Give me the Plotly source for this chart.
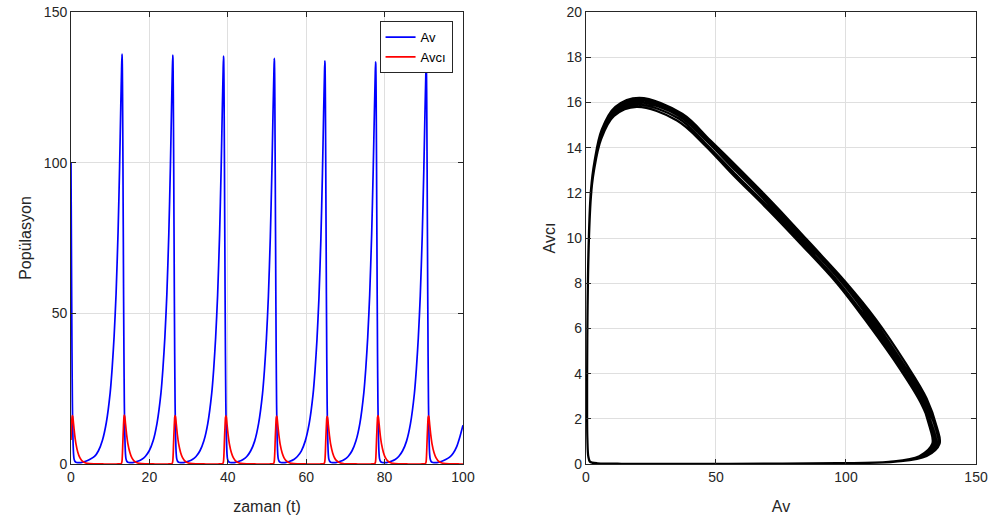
import plotly.graph_objects as go

# ---------------- data ----------------
# cycle 0 (start: Av=100, Avcı=8)
t_c0 = [0, 0.05, 0.1, 0.15, 0.2, 0.25, 0.35, 0.45, 0.55, 0.65, 0.75, 0.95, 1.25, 1.75, 2.25, 2.75, 3.75, 4.75]
av_c0 = [100, 86, 73, 60, 48, 37, 20.5, 11.2, 6.1, 3.3, 1.9, 1.0, 0.6, 0.45, 0.45, 0.55, 0.9, 1.5]
avci_c0 = [8.0, 9.8, 11.3, 12.9, 14.2, 15.4, 16.1, 15.7, 14.7, 13.3, 12.0, 9.6, 6.8, 3.85, 2.1, 1.15, 0.35, 0.11]

# cycle 1 (peak near t=13)
t_c1 = [6.0, 7.0, 8.0, 9.0, 10.0, 10.5, 11.0, 11.5, 12.0, 12.4, 12.7, 12.9, 13.0, 13.05, 13.1, 13.15, 13.2, 13.25,
        13.3, 13.35, 13.4, 13.45, 13.5, 13.6, 13.7, 13.8, 13.9, 14.0, 14.2, 14.5, 15.0, 15.5, 16.0, 17.0, 18.0]
av_c1 = [2.5, 4.4, 7.8, 13.7, 23.8, 31.9, 42.5, 56.6, 76.8, 98.8, 119, 131, 136, 135, 131, 123, 111.5, 99.5,
         85.5, 73.5, 59.5, 48, 37, 20.5, 11.3, 6.1, 3.3, 1.9, 1.0, 0.6, 0.45, 0.45, 0.55, 0.9, 1.5]
avci_c1 = [0.06, 0.035, 0.02, 0.013, 0.01, 0.01, 0.01, 0.012, 0.02, 0.04, 0.1, 0.35, 0.9, 1.6, 2.9, 4.45, 6.4, 8.1,
           9.85, 11.35, 13.0, 14.3, 15.5, 16.2, 15.8, 14.8, 13.4, 12.1, 9.6, 6.8, 3.9, 2.1, 1.15, 0.35, 0.11]

# cycle 2 (peak near t=26)
t_c2 = [18.95, 19.95, 20.95, 21.95, 22.95, 23.45, 23.95, 24.45, 24.95, 25.35, 25.65, 25.85, 25.95, 26.0, 26.05, 26.1,
        26.15, 26.2, 26.25, 26.3, 26.35, 26.4, 26.45, 26.55, 26.65, 26.75, 26.85, 26.95, 27.15, 27.45, 27.95, 28.45,
        28.95, 29.95, 30.95]
av_c2 = [2.5, 4.4, 7.7, 13.6, 23.6, 31.7, 42.2, 56.3, 76.4, 98.4, 118.5, 130.5, 135.7, 134.7, 130.5, 122.5,
         110.8, 98.8, 84.8, 72.8, 58.8, 47.5, 36.5, 20.3, 11.1, 6.0, 3.2, 1.9, 1.0, 0.6, 0.45, 0.45,
         0.55, 0.9, 1.5]
avci_c2 = [0.06, 0.035, 0.02, 0.013, 0.01, 0.01, 0.01, 0.012, 0.02, 0.04, 0.1, 0.35, 0.9, 1.6, 2.85, 4.35,
           6.35, 8.15, 9.85, 11.3, 12.95, 14.25, 15.45, 16.1, 15.7, 14.7, 13.3, 12.0, 9.55, 6.75, 3.85, 2.1,
           1.15, 0.35, 0.11]

# cycle 3 (peak near t=38.9)
t_c3 = [31.9, 32.9, 33.9, 34.9, 35.9, 36.4, 36.9, 37.4, 37.9, 38.3, 38.6, 38.8, 38.9, 38.95, 39.0, 39.05, 39.1,
        39.15, 39.2, 39.25, 39.3, 39.35, 39.4, 39.5, 39.6, 39.7, 39.8, 39.9, 40.1, 40.4, 40.9, 41.4, 41.9, 42.9, 43.9]
av_c3 = [2.5, 4.4, 7.7, 13.5, 23.5, 31.5, 42, 56, 76, 98, 118, 130, 135.4, 134.4, 130, 122, 110,
         98, 84, 72, 58, 47, 36, 20, 11, 6.0, 3.2, 1.9, 1.0, 0.6, 0.45, 0.45, 0.55, 0.9, 1.5]
avci_c3 = [0.06, 0.035, 0.02, 0.013, 0.01, 0.01, 0.01, 0.012, 0.02, 0.04, 0.1, 0.35, 0.9, 1.6, 2.8, 4.3, 6.3,
           8.1, 9.85, 11.3, 12.95, 14.25, 15.4, 16.0, 15.6, 14.6, 13.2, 11.9, 9.5, 6.7, 3.8, 2.1, 1.15, 0.35, 0.11]

# cycle 4 (peak near t=51.9)
t_c4 = [44.85, 45.85, 46.85, 47.85, 48.85, 49.35, 49.85, 50.35, 50.85, 51.25, 51.55, 51.75, 51.85, 51.9, 51.95, 52.0,
        52.05, 52.1, 52.15, 52.2, 52.25, 52.3, 52.35, 52.45, 52.55, 52.65, 52.75, 52.85, 53.05, 53.35, 53.85, 54.35,
        54.85, 55.85, 56.85]
av_c4 = [2.5, 4.4, 7.6, 13.4, 23.3, 31.2, 41.6, 55.5, 75.4, 97.4, 117.4, 129.4, 134.6, 133.6, 129.5, 121.5,
         109.2, 97.2, 83.2, 71.2, 57.2, 46.3, 35.5, 19.7, 10.9, 5.9, 3.1, 1.9, 1.0, 0.6, 0.45, 0.45,
         0.55, 0.9, 1.5]
avci_c4 = [0.06, 0.035, 0.02, 0.013, 0.01, 0.01, 0.01, 0.012, 0.02, 0.04, 0.1, 0.35, 0.9, 1.55, 2.75, 4.25,
           6.25, 8.05, 9.8, 11.25, 12.85, 14.15, 15.3, 15.9, 15.5, 14.5, 13.1, 11.8, 9.4, 6.6, 3.75, 2.05,
           1.12, 0.34, 0.11]

# cycle 5 (peak near t=64.8)
t_c5 = [57.75, 58.75, 59.75, 60.75, 61.75, 62.25, 62.75, 63.25, 63.75, 64.15, 64.45, 64.65, 64.75, 64.8, 64.85, 64.9,
        64.95, 65.0, 65.05, 65.1, 65.15, 65.2, 65.25, 65.35, 65.45, 65.55, 65.65, 65.75, 65.95, 66.25, 66.75, 67.25,
        67.75, 68.75, 69.75]
av_c5 = [2.5, 4.3, 7.6, 13.3, 23.1, 31.0, 41.3, 55.0, 74.8, 96.7, 116.8, 128.7, 133.8, 132.8, 128.8, 120.8,
         108.5, 96.5, 82.5, 70.5, 56.5, 45.8, 35.0, 19.5, 10.8, 5.9, 3.1, 1.8, 1.0, 0.6, 0.45, 0.45,
         0.55, 0.9, 1.5]
avci_c5 = [0.06, 0.035, 0.02, 0.013, 0.01, 0.01, 0.01, 0.012, 0.02, 0.04, 0.1, 0.35, 0.9, 1.55, 2.7, 4.2,
           6.2, 8.0, 9.75, 11.2, 12.8, 14.1, 15.2, 15.8, 15.4, 14.4, 13.0, 11.7, 9.3, 6.5, 3.7, 2.0,
           1.1, 0.33, 0.1]

# cycle 6 (peak near t=77.7)
t_c6 = [70.7, 71.7, 72.7, 73.7, 74.7, 75.2, 75.7, 76.2, 76.7, 77.1, 77.4, 77.6, 77.7, 77.75, 77.8, 77.85, 77.9,
        77.95, 78.0, 78.05, 78.1, 78.15, 78.2, 78.3, 78.4, 78.5, 78.6, 78.7, 78.9, 79.2, 79.7, 80.2, 80.7, 81.7, 82.7]
av_c6 = [2.5, 4.4, 7.7, 13.5, 23.6, 31.6, 42.1, 56.2, 76.2, 97.8, 117, 128.5, 133.5, 132.6, 129, 121.5, 110,
         98.5, 84.5, 72.5, 58.5, 47.5, 36.5, 20.3, 11.1, 6.0, 3.2, 1.9, 1.0, 0.6, 0.45, 0.45, 0.55, 0.9, 1.5]
avci_c6 = [0.06, 0.035, 0.02, 0.013, 0.01, 0.01, 0.01, 0.012, 0.02, 0.04, 0.1, 0.35, 0.9, 1.65, 2.9, 4.5, 6.45,
           8.2, 9.95, 11.45, 13.05, 14.35, 15.5, 16.1, 15.7, 14.7, 13.3, 12.0, 9.55, 6.75, 3.85, 2.1, 1.15, 0.35, 0.11]

# cycle 7 (peak near t=90.6)
t_c7 = [83.6, 84.6, 85.6, 86.6, 87.6, 88.1, 88.6, 89.1, 89.6, 90.0, 90.3, 90.5, 90.6, 90.65, 90.7, 90.75, 90.8,
        90.85, 90.9, 90.95, 91.0, 91.05, 91.1, 91.2, 91.3, 91.4, 91.5, 91.6, 91.8, 92.1, 92.6, 93.1, 93.6, 94.6, 95.6]
av_c7 = [2.5, 4.4, 7.6, 13.4, 23.4, 31.4, 41.8, 55.8, 75.6, 97.2, 116.5, 128.2, 133.2, 132.3, 128.5, 121, 109.5,
         97.8, 83.8, 71.8, 57.8, 46.8, 35.8, 19.9, 11.0, 6.0, 3.2, 1.9, 1.0, 0.6, 0.45, 0.45, 0.55, 0.9, 1.5]
avci_c7 = [0.06, 0.035, 0.02, 0.013, 0.01, 0.01, 0.01, 0.012, 0.02, 0.04, 0.1, 0.35, 0.9, 1.6, 2.85, 4.4, 6.35,
           8.15, 9.9, 11.35, 12.95, 14.25, 15.4, 16.0, 15.6, 14.6, 13.2, 11.9, 9.5, 6.7, 3.8, 2.1, 1.15, 0.35, 0.11]

# final rise toward the next peak
t_c8 = [96.6, 97.5, 98.4, 99.2, 100.0]
av_c8 = [2.3, 3.6, 5.8, 9.0, 12.9]
avci_c8 = [0.06, 0.035, 0.02, 0.015, 0.012]

t = t_c0 + t_c1 + t_c2 + t_c3 + t_c4 + t_c5 + t_c6 + t_c7 + t_c8
av = av_c0 + av_c1 + av_c2 + av_c3 + av_c4 + av_c5 + av_c6 + av_c7 + av_c8
avci = avci_c0 + avci_c1 + avci_c2 + avci_c3 + avci_c4 + avci_c5 + avci_c6 + avci_c7 + avci_c8

left_xticks = [0, 20, 40, 60, 80, 100]
left_yticks = [0, 50, 100, 150]
right_xticks = [0, 50, 100, 150]
right_yticks = [0, 2, 4, 6, 8, 10, 12, 14, 16, 18, 20]

# ---------------- figure ----------------
FONT = "Liberation Sans, Arial, Helvetica, sans-serif"
AX = "#262626"
GRID = "#dfdfdf"

fig = go.Figure()
fig.add_trace(go.Scatter(x=t, y=av, mode="lines", name="Av",
                         line=dict(color="#0000ff", width=1.7, shape="spline", smoothing=0.6),
                         xaxis="x", yaxis="y"))
fig.add_trace(go.Scatter(x=t, y=avci, mode="lines", name="Avcı",
                         line=dict(color="#ff0000", width=1.7, shape="spline", smoothing=0.6),
                         xaxis="x", yaxis="y"))
fig.add_trace(go.Scatter(x=av, y=avci, mode="lines", name="faz",
                         line=dict(color="#000000", width=2.2, shape="spline", smoothing=1.0),
                         showlegend=False, xaxis="x2", yaxis="y2"))

common = dict(showline=True, linecolor=AX, linewidth=1, mirror="ticks", ticks="inside",
              ticklen=5, tickcolor=AX, showgrid=True, gridcolor=GRID, gridwidth=1,
              zeroline=False, tickfont=dict(family=FONT, size=14, color=AX),
              automargin=False, ticklabeloverflow="allow")

fig.update_layout(
    width=1003, height=527,
    margin=dict(l=0, r=0, t=0, b=0),
    paper_bgcolor="white", plot_bgcolor="white",
    font=dict(family=FONT, color=AX),
    xaxis=dict(domain=[0.0708, 0.4616], range=[0, 100], tickvals=left_xticks,
               title=dict(text="zaman (t)", font=dict(size=16, color=AX), standoff=16), anchor="y", **common),
    yaxis=dict(domain=[0.1195, 0.9772], range=[0, 150], tickvals=left_yticks,
               title=dict(text="Popülasyon", font=dict(size=16, color=AX), standoff=8), anchor="x", **common),
    xaxis2=dict(domain=[0.5842, 0.9731], range=[0, 150], tickvals=right_xticks,
                title=dict(text="Av", font=dict(size=16, color=AX), standoff=16), anchor="y2", **common),
    yaxis2=dict(domain=[0.1195, 0.9772], range=[0, 20], tickvals=right_yticks,
                title=dict(text="Avcı", font=dict(size=16, color=AX), standoff=6), anchor="x2", **common),
    legend=dict(x=0.4512, xanchor="right", y=0.960, yanchor="top",
                bgcolor="white", bordercolor=AX, borderwidth=1,
                font=dict(family=FONT, size=13, color="#000000"),
                tracegroupgap=0, itemwidth=30),
    showlegend=True,
)

# remove the default 8px page margin so the figure sits at the window's corner
fig.write_html("out.html", config={"displayModeBar": False},
               post_script="document.body.style.margin='0px';")
